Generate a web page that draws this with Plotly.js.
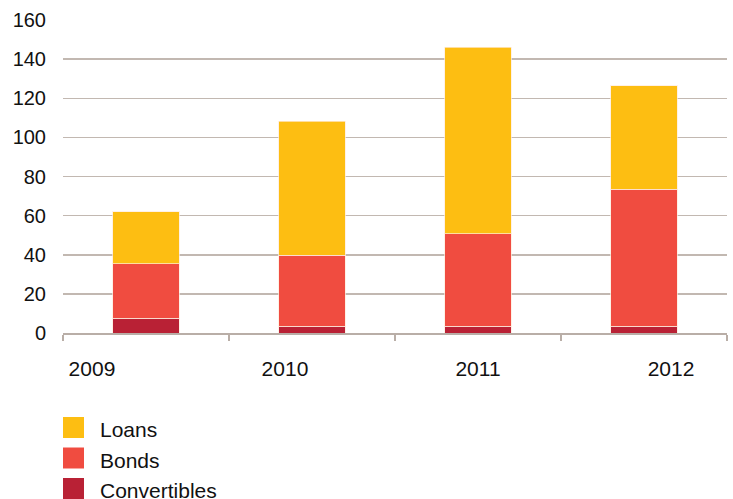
<!DOCTYPE html>
<html><head><meta charset="utf-8">
<script src="https://cdn.plot.ly/plotly-3.0.1.min.js"></script>
<style>html,body{margin:0;padding:0;background:#fff}#c{width:733px;height:499px}</style>
</head><body><div id="c"></div>
<script>
const years = ['2009','2010','2011','2012'];
const convertibles = [7.5, 3.5, 3.5, 3.5];
const bonds = [28, 36.2, 47.2, 70];
const loans = [26.5, 68.6, 95.3, 53];
const seriesNames = ['Loans','Bonds','Convertibles'];
const seriesColors = ['#FDBE12','#F04C40','#B92135'];

const W = 733, H = 499, mL = 63, mR = 6, mT = 20, mB = 166;
const pw = W - mL - mR, ph = H - mT - mB;
const px = x => (x - mL) / pw;
const py = y => (H - mB - y) / ph;

const line = {color:'rgba(255,235,220,0.7)', width:1};
const traces = [
  {type:'bar', x:years, y:convertibles, name:seriesNames[2], marker:{color:seriesColors[2], line:line}, width:0.4},
  {type:'bar', x:years, y:bonds, name:seriesNames[1], marker:{color:seriesColors[1], line:line}, width:0.4},
  {type:'bar', x:years, y:loans, name:seriesNames[0], marker:{color:seriesColors[0], line:line}, width:0.4},
  {type:'scatter', x:[0,1,2,3], y:[null,null,null,null], xaxis:'x2', hoverinfo:'skip', showlegend:false}
];

const shapes = [], annotations = [];
seriesNames.forEach((n,i) => {
  const top = 417 + i*30.5;
  shapes.push({type:'rect', xref:'paper', yref:'paper', x0:px(63), x1:px(84), y0:py(top), y1:py(top+21), fillcolor:seriesColors[i], line:{width:0}});
  annotations.push({xref:'paper', yref:'paper', x:px(99), y:py(top+12.5), text:n, showarrow:false, xanchor:'left', yanchor:'middle', borderpad:0, font:{size:21, color:'#111'}});
});

const layout = {
  width:W, height:H,
  margin:{l:mL, r:mR, t:mT, b:mB},
  paper_bgcolor:'#fff', plot_bgcolor:'#fff',
  barmode:'stack', showlegend:false,
  font:{family:'"Liberation Sans", Arial, Helvetica, sans-serif', size:18, color:'#111'},
  xaxis:{type:'category', range:[-0.5,3.5], showticklabels:false, ticks:'outside', tickson:'boundaries', ticklen:6, tickcolor:'#B9AEA7', tickwidth:1.3, showline:true, linecolor:'#B9AEA7', linewidth:1.5, showgrid:false, zeroline:false, fixedrange:true},
  xaxis2:{overlaying:'x', anchor:'y', side:'bottom', range:[-0.15,3.29], tickvals:[0,1,2,3], ticktext:years, showgrid:false, zeroline:false, showline:false, ticks:'', ticklabelstandoff:21, tickfont:{size:21}},
  yaxis:{range:[0,160], dtick:20, showgrid:true, gridcolor:'#C2B8B1', gridwidth:1.5, zeroline:false, showline:false, ticks:'', ticklabelstandoff:16, tickfont:{size:20}},
  shapes:shapes, annotations:annotations
};
Plotly.newPlot('c', traces, layout, {displayModeBar:false, staticPlot:true});
</script></body></html>
